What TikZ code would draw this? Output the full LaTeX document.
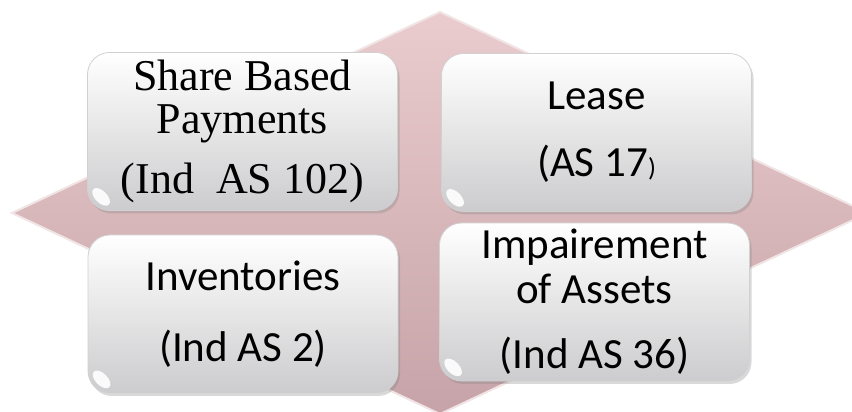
\documentclass[tikz,border=0pt]{standalone}
\usepackage{fontspec}
\setmainfont{Liberation Serif}
\newfontfamily\calibri{Carlito}
\usetikzlibrary{shadows}
\definecolor{rosy}{RGB}{214,178,182}
\definecolor{rosytop}{RGB}{234,204,206}
\definecolor{rosybot}{RGB}{198,163,168}
\definecolor{boxgray}{RGB}{204,204,206}
\tikzset{
  card/.style={rounded corners=11pt, minimum width=155pt, minimum height=79pt,
    inner sep=0pt, align=center, top color=white, bottom color=boxgray,
    draw=white!82!black, line width=0.4pt,
    drop shadow={opacity=0.3, shadow xshift=1pt, shadow yshift=-1.5pt}},
  sans/.style={font=\calibri\fontsize{21.5}{24}\selectfont},
  gloss/.style={fill=white, opacity=0.9}
}
\begin{document}
\begin{tikzpicture}[x=0.5pt,y=0.5pt]
  \useasboundingbox (0,0) rectangle (852,412);
  \clip (0,0) rectangle (852,412);
  % pink diamond behind the cards
  \draw[top color=rosytop, bottom color=rosybot, draw=white!65!rosy, line width=1pt]
    (440,400) -- (868,199) -- (440,-2) -- (12,199) -- cycle;

  \node[card, font=\fontsize{22}{21.5}\selectfont] (share) at (242.5,280.5)
    {Share Based\\Payments\\[8.5pt](Ind\ \ AS 102)};
  \node[card, sans] (lease) at (596.5,279.5)
    {Lease\\[9.5pt](AS 17{\fontsize{13}{13}\selectfont)}};
  \node[card, sans] (invent) at (243,98)
    {Inventories\\[11.5pt](Ind AS 2)};
  \node[card, sans] (impair) at (594.5,110)
    {Impairement\\[-1.5pt]of Assets\\[8.5pt](Ind AS 36)};

  % shine in the lower left corners
  \foreach \n in {share,lease,invent,impair} {
    \path (\n.south west) ++(14,14) coordinate (g);
    \fill[gloss, rotate around={-45:(g)}] (g) ellipse (5.5pt and 3pt);}
\end{tikzpicture}
\end{document}
